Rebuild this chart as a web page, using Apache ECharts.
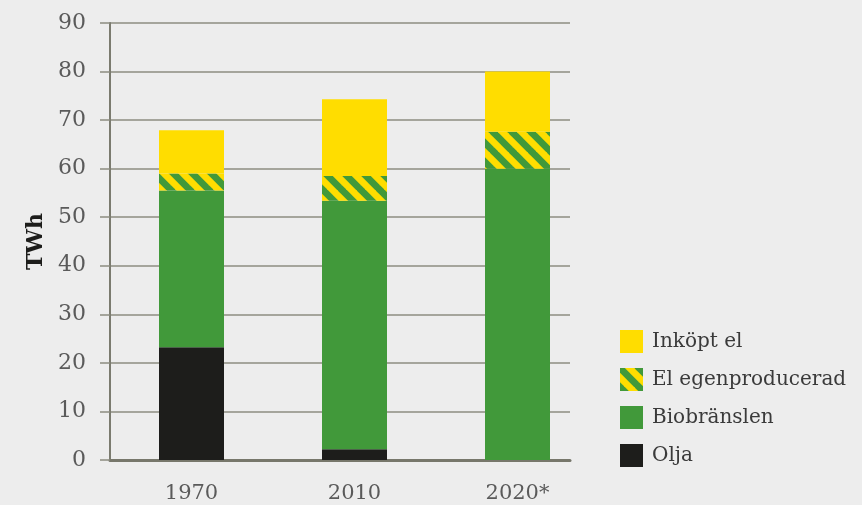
<!DOCTYPE html>
<html>
<head>
<meta charset="utf-8">
<title>TWh</title>
<script src="https://cdn.jsdelivr.net/npm/echarts@6/dist/echarts.min.js"></script>
<style>
  html, body { margin: 0; padding: 0; background: #ededed; }
  #main { width: 862px; height: 505px; }
</style>
</head>
<body>
<div id="main"></div>
<script>
// data
var years = ['1970', '2010', '2020*'];
var olja = [23.2, 2.2, 0];
var bio = [32.3, 51.2, 60.0];
var elEgen = [3.5, 5.1, 7.6];
var inkopt = [8.9, 15.8, 12.4];
var legendNames = ['Inköpt el', 'El egenproducerad', 'Biobränslen', 'Olja'];

var YELLOW = '#ffdd00', GREEN = '#41993a', BLACK = '#1d1d1b';

// striped fill for "El egenproducerad" (stripes run down to the right)
function hatch() {
  var s = 19;
  var c = document.createElement('canvas');
  c.width = s; c.height = s;
  var ctx = c.getContext('2d');
  ctx.fillStyle = YELLOW;
  ctx.fillRect(0, 0, s, s);
  ctx.strokeStyle = GREEN;
  ctx.lineWidth = 6.8;
  for (var k = -s; k <= s; k += s) {
    ctx.beginPath();
    ctx.moveTo(k - 2, -2);
    ctx.lineTo(k + s + 2, s + 2);
    ctx.stroke();
  }
  return c;
}

var myChart = echarts.init(document.getElementById('main'));
var serif = '"DejaVu Serif", serif';

function bar(name, data, color) {
  return {
    name: name, type: 'bar', stack: 'tot',
    xAxisIndex: 1, yAxisIndex: 1,
    barWidth: 65,
    data: data,
    itemStyle: { color: color },
    emphasis: { disabled: true }
  };
}

var option = {
  backgroundColor: '#ededed',
  animation: false,
  grid: [
    { left: 110, top: 23, width: 460, height: 437 },
    { left: 110, top: 23, width: 489, height: 437 }
  ],
  legend: {
    data: legendNames,
    orient: 'vertical',
    left: 615, top: 325,
    itemWidth: 23, itemHeight: 23, itemGap: 15,
    icon: 'rect',
    textStyle: { fontFamily: serif, fontSize: 20, color: '#3a3a3a', padding: [0, 0, 0, 4] }
  },
  xAxis: [
    {
      gridIndex: 0, type: 'category', data: years,
      axisLine: { lineStyle: { color: '#77776b', width: 3 } },
      axisTick: { show: false }, axisLabel: { show: false }
    },
    {
      gridIndex: 1, type: 'category', data: years,
      axisLine: { show: false }, axisTick: { show: false },
      axisLabel: { fontFamily: serif, fontSize: 21, color: '#5a5a5a', margin: 23 }
    }
  ],
  yAxis: [
    {
      gridIndex: 0, type: 'value', min: 0, max: 90, interval: 10,
      name: 'TWh', nameLocation: 'middle', nameGap: 62,
      nameTextStyle: { fontFamily: serif, fontWeight: 'bold', fontSize: 22, color: '#1d1d1b' },
      axisLine: { show: true, lineStyle: { color: '#7b7b6f', width: 2 } },
      axisTick: { show: true, length: 10, lineStyle: { color: '#8c8c80', width: 1.5 } },
      axisLabel: { fontFamily: serif, fontSize: 22, color: '#5a5a5a', margin: 24 },
      splitLine: { lineStyle: { color: '#8c8c80', width: 1.5 } }
    },
    {
      gridIndex: 1, type: 'value', min: 0, max: 90, interval: 10,
      axisLine: { show: false }, axisTick: { show: false },
      axisLabel: { show: false }, splitLine: { show: false }
    }
  ],
  series: [
    bar('Olja', olja, BLACK),
    bar('Biobränslen', bio, GREEN),
    bar('El egenproducerad', elEgen, { image: hatch(), repeat: 'repeat' }),
    bar('Inköpt el', inkopt, YELLOW)
  ]
};
myChart.setOption(option);
</script>
</body>
</html>
